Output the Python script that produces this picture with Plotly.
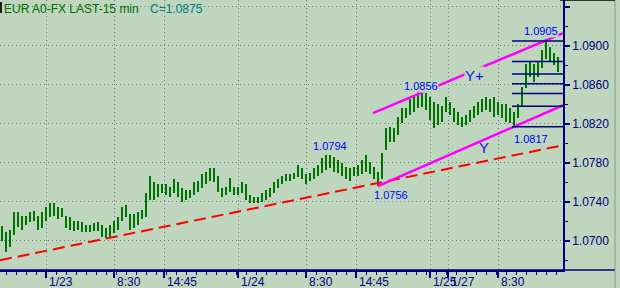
import plotly.graph_objects as go

# ---- data (EUR A0-FX, 30-min resolution) ----
high = [1.0715, 1.0709, 1.0711, 1.0729, 1.0729, 1.0725, 1.0725, 1.0730, 1.0731, 1.0725,
        1.0729, 1.0735, 1.0739, 1.0739, 1.0735, 1.0734, 1.0725, 1.0724, 1.0720, 1.0720,
        1.0719, 1.0716, 1.0716, 1.0718, 1.0719, 1.0716, 1.0713, 1.0716, 1.0720, 1.0724,
        1.0735, 1.0737, 1.0727, 1.0727, 1.0729, 1.0732, 1.0749, 1.0766, 1.0760, 1.0758,
        1.0758, 1.0758, 1.0755, 1.0763, 1.0760, 1.0754, 1.0752, 1.0752, 1.0760, 1.0761,
        1.0768, 1.0771, 1.0775, 1.0775, 1.0766, 1.0754, 1.0755, 1.0764, 1.0755, 1.0755,
        1.0760, 1.0758, 1.0747, 1.0745, 1.0745, 1.0749, 1.0752, 1.0754, 1.0760, 1.0763,
        1.0766, 1.0768, 1.0768, 1.0770, 1.0778, 1.0775, 1.0768, 1.0770, 1.0775, 1.0778,
        1.0785, 1.0788, 1.0788, 1.0786, 1.0783, 1.0780, 1.0776, 1.0775, 1.0776, 1.0778,
        1.0783, 1.0788, 1.0781, 1.0776, 1.0771, 1.0790, 1.0816, 1.0817, 1.0816, 1.0827,
        1.0836, 1.0836, 1.0845, 1.0848, 1.0856, 1.0852, 1.0852, 1.0848, 1.0842, 1.0840,
        1.0838, 1.0847, 1.0842, 1.0836, 1.0832, 1.0827, 1.0829, 1.0834, 1.0838, 1.0842,
        1.0845, 1.0847, 1.0845, 1.0847, 1.0842, 1.0840, 1.0840, 1.0836, 1.0832, 1.0840,
        1.0858, 1.0881, 1.0883, 1.0881, 1.0884, 1.0896, 1.0905, 1.0899, 1.0893, 1.0889]
low = [1.0700, 1.0688, 1.0694, 1.0706, 1.0714, 1.0711, 1.0716, 1.0719, 1.0720, 1.0711,
       1.0713, 1.0720, 1.0724, 1.0725, 1.0722, 1.0724, 1.0713, 1.0711, 1.0710, 1.0711,
       1.0709, 1.0709, 1.0709, 1.0710, 1.0710, 1.0704, 1.0703, 1.0704, 1.0708, 1.0711,
       1.0720, 1.0724, 1.0711, 1.0713, 1.0716, 1.0722, 1.0724, 1.0742, 1.0742, 1.0745,
       1.0749, 1.0747, 1.0745, 1.0749, 1.0745, 1.0740, 1.0742, 1.0744, 1.0747, 1.0750,
       1.0754, 1.0758, 1.0761, 1.0760, 1.0750, 1.0745, 1.0747, 1.0750, 1.0747, 1.0747,
       1.0749, 1.0742, 1.0739, 1.0739, 1.0739, 1.0740, 1.0742, 1.0745, 1.0749, 1.0754,
       1.0758, 1.0761, 1.0761, 1.0763, 1.0765, 1.0763, 1.0758, 1.0761, 1.0763, 1.0766,
       1.0770, 1.0773, 1.0775, 1.0771, 1.0770, 1.0766, 1.0763, 1.0761, 1.0766, 1.0766,
       1.0768, 1.0771, 1.0768, 1.0763, 1.0756, 1.0763, 1.0793, 1.0801, 1.0801, 1.0809,
       1.0821, 1.0826, 1.0829, 1.0832, 1.0836, 1.0837, 1.0834, 1.0824, 1.0816, 1.0819,
       1.0822, 1.0832, 1.0829, 1.0822, 1.0819, 1.0817, 1.0819, 1.0822, 1.0826, 1.0829,
       1.0832, 1.0834, 1.0832, 1.0827, 1.0829, 1.0826, 1.0822, 1.0821, 1.0817, 1.0826,
       1.0838, 1.0857, 1.0868, 1.0863, 1.0868, 1.0877, 1.0886, 1.0883, 1.0880, 1.0873]
# position of each bar on the 15-min bar index
bar_index = [2 * k + 1 for k in range(len(high))]

tick_pos = [23, 57, 82, 119, 153, 178, 215, 224, 249]
tick_text = ["1/23", "8:30", "14:45", "1/24", "8:30", "14:45", "1/25", "1/27", "8:30"]

y_ticks = [1.0700, 1.0740, 1.0780, 1.0820, 1.0860, 1.0900, 1.0940]
y_text = ["1.0700", "1.0740", "1.0780", "1.0820", "1.0860", "1.0900", ""]

red_x = [0, 281.5]
red_y = [1.0680, 1.0798]
chan_low_x = [189, 281.5]
chan_low_y = [1.0756, 1.0839]
chan_up_x = [186.5, 281.5]
chan_up_y = [1.0831, 1.0913]
fib_levels = [1.0905, 1.0884, 1.0871, 1.0861, 1.0851, 1.0838, 1.0817]
fib_x = [256, 281.5]

labels = ["1.0905", "1.0856", "1.0794", "1.0756", "1.0817"]
label_x = [270.5, 210.5, 165, 195.5, 265.5]
label_y = [1.0915, 1.0859, 1.0797, 1.0747, 1.0804]

BG = "#bdd6bd"
NAVY = "#000080"
FONT = "Liberation Sans, Arial, sans-serif"

fig = go.Figure()

fig.add_trace(go.Bar(
    x=bar_index, y=[h - l for h, l in zip(high, low)], base=low,
    width=1.15, marker=dict(color="#007200", line=dict(width=0)),
    hoverinfo="skip", showlegend=False))

fig.add_trace(go.Scatter(x=red_x, y=red_y, mode="lines",
                         line=dict(color="#ff0000", width=2, dash="12px,6px"),
                         showlegend=False, hoverinfo="skip"))
fig.add_trace(go.Scatter(x=chan_low_x, y=chan_low_y, mode="lines",
                         line=dict(color="#ff00ff", width=2.5),
                         showlegend=False, hoverinfo="skip"))
fig.add_trace(go.Scatter(x=chan_up_x, y=chan_up_y, mode="lines",
                         line=dict(color="#ff00ff", width=2.5),
                         showlegend=False, hoverinfo="skip"))

fx, fy = [], []
for lv in fib_levels:
    fx += [fib_x[0], fib_x[1], None]
    fy += [lv, lv, None]
fig.add_trace(go.Scatter(x=fx, y=fy, mode="lines",
                         line=dict(color=NAVY, width=1.5),
                         showlegend=False, hoverinfo="skip"))

ann = []
for t, x, y in zip(labels, label_x, label_y):
    ann.append(dict(x=x, y=y, xref="x", yref="y", text=t, showarrow=False,
                    font=dict(family=FONT, size=11, color="#0000ff"),
                    bgcolor=BG, borderpad=0))
ann.append(dict(x=237, y=1.0870, xref="x", yref="y", text="Y+", showarrow=False,
                font=dict(family=FONT, size=15, color="#1414e6"), bgcolor=BG, borderpad=0))
ann.append(dict(x=242, y=1.0796, xref="x", yref="y", text="Y", showarrow=False,
                font=dict(family=FONT, size=15, color="#1414e6"), borderpad=0))
for p, t in zip(tick_pos, tick_text):
    ann.append(dict(x=p, y=0, xref="x", yref="paper", text=t, showarrow=False,
                    xanchor="left", yanchor="top", xshift=1, yshift=-3,
                    font=dict(family=FONT, size=12, color=NAVY)))
ann.append(dict(x=0, y=1, xref="paper", yref="paper", xanchor="left", yanchor="top",
                xshift=2, showarrow=False,
                text="EUR A0-FX LAST-15 min",
                font=dict(family=FONT, size=12, color="#006e00")))
ann.append(dict(x=148 / 563, y=1, xref="paper", yref="paper", xanchor="left", yanchor="top",
                showarrow=False, text="C=1.0875",
                font=dict(family=FONT, size=12, color="#008080")))

xr = 615 / 563
shapes = [
    dict(type="line", xref="paper", yref="paper", x0=0, x1=xr, y0=0, y1=0,
         line=dict(color=NAVY, width=1.5)),
    dict(type="line", xref="paper", yref="paper", x0=xr, x1=xr, y0=-18 / 270, y1=1,
         line=dict(color="#8a9a8a", width=1)),
    dict(type="line", xref="paper", yref="paper", x0=560 / 563, x1=xr, y0=1, y1=1,
         line=dict(color="#000000", width=1.5)),
    dict(type="rect", xref="paper", yref="paper", x0=0, x1=2 / 563, y0=1 - 2 / 270,
         y1=1 - 13 / 270, line=dict(width=0), fillcolor="#202020"),
]

fig.update_layout(
    width=620, height=288,
    margin=dict(l=0, r=57, t=0, b=18),
    paper_bgcolor=BG, plot_bgcolor=BG,
    bargap=0, showlegend=False,
    annotations=ann, shapes=shapes,
    xaxis=dict(range=[0, 281.5], tickmode="array", tickvals=tick_pos,
               showticklabels=False, ticks="outside", ticklen=6, tickwidth=1.5,
               tickcolor=NAVY, showline=True, linecolor=NAVY, linewidth=1.5,
               showgrid=True, gridcolor="#7a7a7a", gridwidth=1, griddash="1px,3px",
               zeroline=False,
               minor=dict(ticks="outside", ticklen=3, tickwidth=1, tickcolor=NAVY,
                          tickmode="linear", tick0=3, dtick=5, showgrid=False)),
    yaxis=dict(range=[1.0670, 1.0947], side="right", tickmode="array",
               tickvals=y_ticks, ticktext=y_text, ticks="outside", ticklen=5,
               tickwidth=1.5, tickcolor=NAVY, showline=True, linecolor=NAVY,
               linewidth=1.5, showgrid=True, gridcolor="#7a7a7a", gridwidth=1,
               griddash="1px,3px", zeroline=False,
               tickfont=dict(family=FONT, size=12, color=NAVY),
               minor=dict(ticks="outside", ticklen=3, tickwidth=1, tickcolor=NAVY,
                          tickmode="linear", tick0=1.072, dtick=0.004, showgrid=False)),
)

fig.write_html("out.html")
